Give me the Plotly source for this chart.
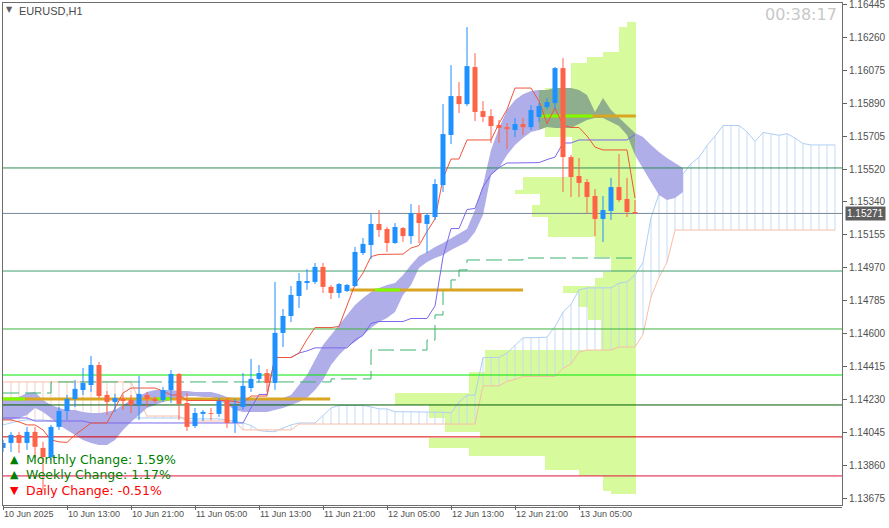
import plotly.graph_objects as go

# ---------------- data ----------------
symbol = "EURUSD,H1"
timer_text = "00:38:17"

# H1 candles, first bar = 10 Jun 2025 05:00
opens = [1.13956, 1.13984, 1.14029, 1.13984, 1.14046, 1.13956, 1.13905, 1.14074, 1.14163, 1.14231,
         1.14281, 1.14309, 1.14421, 1.14253, 1.14214, 1.14231, 1.14225, 1.14197, 1.14253, 1.14231,
         1.14225, 1.14281, 1.14371, 1.14208, 1.14079, 1.14147, 1.14152, 1.14147, 1.14225, 1.14096,
         1.14186, 1.14292, 1.14343, 1.14376, 1.14320, 1.14601, 1.14696, 1.14808, 1.14881, 1.14887,
         1.14971, 1.14859, 1.14825, 1.14836, 1.14864, 1.15049, 1.15094, 1.15212, 1.15184, 1.15105,
         1.15189, 1.15144, 1.15273, 1.15212, 1.15251, 1.15430, 1.15711, 1.15929, 1.15884, 1.16092,
         1.15845, 1.15817, 1.15767, 1.15755, 1.15739, 1.15772, 1.15755, 1.15812, 1.15868, 1.15890,
         1.16086, 1.15587, 1.15481, 1.15447, 1.15369, 1.15240, 1.15285, 1.15419, 1.15352, 1.15279]
highs = [1.14001, 1.14046, 1.14046, 1.14074, 1.14074, 1.13990, 1.14085, 1.14186, 1.14253, 1.14337,
         1.14404, 1.14472, 1.14438, 1.14275, 1.14259, 1.14253, 1.14253, 1.14360, 1.14270, 1.14242,
         1.14298, 1.14393, 1.14376, 1.14264, 1.14180, 1.14169, 1.14180, 1.14236, 1.14236, 1.14231,
         1.14376, 1.14455, 1.14421, 1.14399, 1.14887, 1.14735, 1.14864, 1.14937, 1.14959, 1.14993,
         1.14993, 1.14870, 1.14881, 1.14875, 1.15083, 1.15133, 1.15268, 1.15290, 1.15195, 1.15217,
         1.15195, 1.15324, 1.15318, 1.15273, 1.15464, 1.15884, 1.16103, 1.16008, 1.16316, 1.16170,
         1.15901, 1.15856, 1.15795, 1.15778, 1.15806, 1.15806, 1.15879, 1.15890, 1.15918, 1.16092,
         1.16142, 1.15599, 1.15582, 1.15464, 1.15408, 1.15369, 1.15470, 1.15604, 1.15470, 1.15346]
lows = [1.13933, 1.13933, 1.13928, 1.13945, 1.13900, 1.13720, 1.13889, 1.14057, 1.14113, 1.14186,
        1.14253, 1.14270, 1.14236, 1.14141, 1.14158, 1.14169, 1.14152, 1.14113, 1.14186, 1.14208,
        1.14214, 1.14208, 1.14113, 1.14051, 1.14068, 1.14107, 1.14113, 1.14130, 1.14068, 1.14040,
        1.14169, 1.14270, 1.14320, 1.14270, 1.14281, 1.14522, 1.14662, 1.14741, 1.14842, 1.14875,
        1.14825, 1.14791, 1.14797, 1.14830, 1.14859, 1.15038, 1.15015, 1.15139, 1.15055, 1.15100,
        1.15111, 1.15100, 1.15105, 1.15049, 1.15234, 1.15391, 1.15660, 1.15834, 1.15873, 1.15789,
        1.15783, 1.15666, 1.15666, 1.15632, 1.15699, 1.15711, 1.15739, 1.15783, 1.15856, 1.15856,
        1.15391, 1.15363, 1.15363, 1.15268, 1.15144, 1.15111, 1.15234, 1.15335, 1.15251, 1.15271]
closes = [1.13984, 1.14029, 1.13984, 1.14046, 1.13962, 1.13905, 1.14074, 1.14163, 1.14231, 1.14287,
          1.14320, 1.14421, 1.14247, 1.14214, 1.14236, 1.14219, 1.14197, 1.14259, 1.14231, 1.14219,
          1.14281, 1.14371, 1.14203, 1.14074, 1.14152, 1.14158, 1.14147, 1.14219, 1.14096, 1.14191,
          1.14304, 1.14343, 1.14376, 1.14320, 1.14601, 1.14696, 1.14814, 1.14892, 1.14892, 1.14971,
          1.14859, 1.14825, 1.14875, 1.14870, 1.15055, 1.15100, 1.15212, 1.15178, 1.15105, 1.15195,
          1.15144, 1.15273, 1.15217, 1.15262, 1.15436, 1.15716, 1.15929, 1.15884, 1.16097, 1.15840,
          1.15812, 1.15761, 1.15750, 1.15744, 1.15772, 1.15755, 1.15851, 1.15873, 1.15896, 1.16086,
          1.15587, 1.15475, 1.15442, 1.15363, 1.15240, 1.15290, 1.15419, 1.15346, 1.15279, 1.15271]

tenkan = [1.14113, 1.14113, 1.14102, 1.14085, 1.14085, 1.14057, 1.14001, 1.13990, 1.13987, 1.14029,
          1.14062, 1.14096, 1.14096, 1.14096, 1.14180, 1.14264, 1.14292, 1.14292, 1.14292, 1.14292,
          1.14275, 1.14253, 1.14253, 1.14222, 1.14222, 1.14222, 1.14222, 1.14222, 1.14222, 1.14216,
          1.14208, 1.14247, 1.14247, 1.14247, 1.14463, 1.14463, 1.14463, 1.14488, 1.14564, 1.14631,
          1.14631, 1.14631, 1.14637, 1.14758, 1.14872, 1.14937, 1.15029, 1.15041, 1.15041, 1.15041,
          1.15043, 1.15077, 1.15091, 1.15170, 1.15240, 1.15467, 1.15576, 1.15576, 1.15683, 1.15683,
          1.15683, 1.15683, 1.15775, 1.15854, 1.15974, 1.15974, 1.15974, 1.15901, 1.15775, 1.15862,
          1.15767, 1.15753, 1.15753, 1.15705, 1.15643, 1.15627, 1.15627, 1.15627, 1.15627, 1.15357]
kijun = [1.14124, 1.14124, 1.14124, 1.14124, 1.14107, 1.14107, 1.14107, 1.14107, 1.14107, 1.14107,
         1.14107, 1.14096, 1.14096, 1.14096, 1.14096, 1.14096, 1.14096, 1.14096, 1.14096, 1.14096,
         1.14096, 1.14096, 1.14096, 1.14096, 1.14096, 1.14096, 1.14096, 1.14096, 1.14096, 1.14096,
         1.14096, 1.14180, 1.14256, 1.14256, 1.14463, 1.14463, 1.14463, 1.14488, 1.14500, 1.14517,
         1.14517, 1.14517, 1.14517, 1.14517, 1.14561, 1.14587, 1.14654, 1.14665, 1.14665, 1.14665,
         1.14665, 1.14682, 1.14682, 1.14682, 1.14752, 1.15027, 1.15186, 1.15186, 1.15293, 1.15299,
         1.15419, 1.15489, 1.15528, 1.15554, 1.15554, 1.15554, 1.15554, 1.15556, 1.15573, 1.15587,
         1.15666, 1.15666, 1.15683, 1.15683, 1.15683, 1.15683, 1.15683, 1.15683, 1.15683, 1.15713]

# Senkou spans (already displaced 26 bars forward, indices 0..104)
senkou_a = [1.14085, 1.14096, 1.14107, 1.14113, 1.14113, 1.14113, 1.14107, 1.14102, 1.14102, 1.14102,
            1.14107, 1.14113, 1.14119, 1.14124, 1.14124, 1.14124, 1.14124, 1.14124, 1.14124, 1.14124,
            1.14124, 1.14124, 1.14124, 1.14124, 1.14119, 1.14119, 1.14119, 1.14119, 1.14113, 1.14104,
            1.14096, 1.14082, 1.14054, 1.14048, 1.14047, 1.14068, 1.14085, 1.14096, 1.14096, 1.14096,
            1.14138, 1.14180, 1.14194, 1.14194, 1.14194, 1.14194, 1.14186, 1.14175, 1.14175, 1.14159,
            1.14159, 1.14159, 1.14159, 1.14159, 1.14159, 1.14156, 1.14152, 1.14214, 1.14252, 1.14252,
            1.14463, 1.14463, 1.14463, 1.14488, 1.14532, 1.14574, 1.14574, 1.14574, 1.14577, 1.14637,
            1.14717, 1.14762, 1.14842, 1.14853, 1.14853, 1.14853, 1.14854, 1.14880, 1.14887, 1.14926,
            1.14996, 1.15247, 1.15381, 1.15381, 1.15488, 1.15491, 1.15551, 1.15586, 1.15652, 1.15704,
            1.15764, 1.15764, 1.15764, 1.15729, 1.15674, 1.15725, 1.15716, 1.15709, 1.15718, 1.15694,
            1.15663, 1.15655, 1.15655, 1.15655, 1.15655]
senkou_b = [1.14326, 1.14326, 1.14326, 1.14326, 1.14326, 1.14326, 1.14326, 1.14326, 1.14326, 1.14326,
            1.14326, 1.14326, 1.14326, 1.14326, 1.14326, 1.14326, 1.14326, 1.14225, 1.14135, 1.14135,
            1.14135, 1.14135, 1.14135, 1.14107, 1.14107, 1.14107, 1.14107, 1.14107, 1.14107, 1.14107,
            1.14057, 1.14057, 1.14057, 1.14057, 1.14057, 1.14057, 1.14057, 1.14090, 1.14090, 1.14090,
            1.14090, 1.14090, 1.14090, 1.14090, 1.14090, 1.14090, 1.14090, 1.14090, 1.14090, 1.14090,
            1.14090, 1.14090, 1.14090, 1.14090, 1.14090, 1.14090, 1.14090, 1.14090, 1.14090, 1.14090,
            1.14304, 1.14304, 1.14304, 1.14329, 1.14340, 1.14357, 1.14357, 1.14357, 1.14357, 1.14357,
            1.14402, 1.14427, 1.14494, 1.14505, 1.14505, 1.14505, 1.14505, 1.14522, 1.14522, 1.14522,
            1.14592, 1.14802, 1.14912, 1.14996, 1.15178, 1.15178, 1.15178, 1.15178, 1.15178, 1.15178,
            1.15178, 1.15178, 1.15178, 1.15178, 1.15178, 1.15178, 1.15178, 1.15178, 1.15178, 1.15178,
            1.15178, 1.15178, 1.15178, 1.15178, 1.15178]

# filled (lavender) band, indices 0..85
band_top = [1.14236, 1.14236, 1.14242, 1.14264, 1.14270, 1.14225, 1.14197, 1.14180, 1.14169, 1.14169,
            1.14158, 1.14152, 1.14152, 1.14158, 1.14169, 1.14197, 1.14225, 1.14247, 1.14270, 1.14281,
            1.14281, 1.14281, 1.14275, 1.14275, 1.14270, 1.14270, 1.14270, 1.14259, 1.14242, 1.14236,
            1.14231, 1.14231, 1.14225, 1.14225, 1.14225, 1.14236, 1.14253, 1.14309, 1.14365, 1.14449,
            1.14533, 1.14589, 1.14645, 1.14702, 1.14758, 1.14797, 1.14830, 1.14853, 1.14870, 1.14881,
            1.14926, 1.14982, 1.15032, 1.15055, 1.15083, 1.15105, 1.15133, 1.15161, 1.15184, 1.15290,
            1.15430, 1.15627, 1.15750, 1.15851, 1.15907, 1.15940, 1.15957, 1.15963, 1.15963, 1.15974,
            1.15974, 1.15974, 1.15963, 1.15935, 1.15840, 1.15918, 1.15851, 1.15806, 1.15767, 1.15722,
            1.15699, 1.15655, 1.15615, 1.15582, 1.15554, 1.15526]
band_bottom = [1.14113, 1.14113, 1.14124, 1.14141, 1.14180, 1.14158, 1.14124, 1.14085, 1.14057, 1.14029,
               1.14001, 1.13984, 1.13973, 1.13973, 1.14001, 1.14057, 1.14102, 1.14141, 1.14180, 1.14197,
               1.14214, 1.14225, 1.14236, 1.14247, 1.14247, 1.14242, 1.14242, 1.14225, 1.14197, 1.14169,
               1.14158, 1.14158, 1.14158, 1.14158, 1.14169, 1.14180, 1.14197, 1.14214, 1.14236, 1.14281,
               1.14337, 1.14421, 1.14477, 1.14522, 1.14550, 1.14589, 1.14629, 1.14662, 1.14685, 1.14718,
               1.14814, 1.14870, 1.14965, 1.14999, 1.15021, 1.15038, 1.15066, 1.15088, 1.15111, 1.15167,
               1.15262, 1.15486, 1.15526, 1.15599, 1.15655, 1.15694, 1.15727, 1.15739, 1.15755, 1.15750,
               1.15750, 1.15750, 1.15772, 1.15795, 1.15806, 1.15806, 1.15783, 1.15761, 1.15711, 1.15599,
               1.15526, 1.15447, 1.15374, 1.15346, 1.15357, 1.15391]

signal_dashed = [1.14264, 1.14264, 1.14264, 1.14264, 1.14264, 1.14264, 1.14326, 1.14326, 1.14326, 1.14326,
                 1.14326, 1.14326, 1.14326, 1.14326, 1.14326, 1.14326, 1.14326, 1.14326, 1.14326, 1.14326,
                 1.14326, 1.14326, 1.14326, 1.14326, 1.14326, 1.14326, 1.14326, 1.14326, 1.14326, 1.14326,
                 1.14326, 1.14326, 1.14326, 1.14326, 1.14326, 1.14326, 1.14326, 1.14326, 1.14326, 1.14326,
                 1.14326, 1.14343, 1.14343, 1.14343, 1.14343, 1.14343, 1.14505, 1.14505, 1.14505, 1.14505,
                 1.14505, 1.14505, 1.14505, 1.14561, 1.14702, 1.14842, 1.14898, 1.14954, 1.15010, 1.15010,
                 1.15010, 1.15010, 1.15010, 1.15010, 1.15010, 1.15021, 1.15021, 1.15021, 1.15021, 1.15021,
                 1.15021, 1.15021, 1.15021, 1.15021, 1.15021, 1.15021, 1.15021, 1.15021, 1.15021, 1.15021]

# volume profile bins (price top, price bottom, relative volume)
vp_top = [1.16344, 1.16316, 1.16176, 1.16148, 1.16114, 1.15974, 1.15699, 1.15475, 1.15402, 1.15380,
          1.15318, 1.15251, 1.15139, 1.15027, 1.14943, 1.14909, 1.14864, 1.14825, 1.14746, 1.14674,
          1.14505, 1.14382, 1.14264, 1.14197, 1.14124, 1.14046, 1.14012, 1.13956, 1.13911, 1.13833,
          1.13799, 1.13715]
vp_bottom = [1.16316, 1.16176, 1.16148, 1.16114, 1.15974, 1.15699, 1.15475, 1.15402, 1.15380, 1.15318,
             1.15251, 1.15139, 1.15027, 1.14943, 1.14909, 1.14864, 1.14825, 1.14746, 1.14674, 1.14505,
             1.14382, 1.14264, 1.14197, 1.14124, 1.14046, 1.14012, 1.13956, 1.13911, 1.13833, 1.13799,
             1.13715, 1.13698]
vp_volume = [1.1, 2.1, 4.1, 6.1, 8.1, 11.4, 8.0, 14.1, 15.1, 12.0,
             13.0, 11.0, 5.1, 3.1, 4.1, 5.1, 9.1, 7.2, 6.0, 4.3,
             18.9, 20.8, 30.1, 25.8, 23.9, 19.5, 25.8, 20.8, 11.4, 7.1,
             4.1, 3.1]

# session POC lines (price, from bar, to bar) and highlighted parts
poc_prices = [1.14231, 1.14842, 1.15817]
poc_from = [0.0, 43.4, 67.1]
poc_to = [40.9, 65.0, 79.1]
poc_hi_prices = [1.14231, 1.14231, 1.14842, 1.15817]
poc_hi_from = [0.0, 19.2, 46.5, 67.1]
poc_hi_to = [2.75, 20.9, 49.6, 73.7]

# horizontal levels
level_prices = [1.15526, 1.14948, 1.14623, 1.14365, 1.14197, 1.14018, 1.13799]
last_price = 1.15271

x_tick_labels = ["10 Jun 2025", "10 Jun 13:00", "10 Jun 21:00", "11 Jun 05:00", "11 Jun 13:00",
                 "11 Jun 21:00", "12 Jun 05:00", "12 Jun 13:00", "12 Jun 21:00", "13 Jun 05:00"]
x_tick_bars = [0, 8, 16, 24, 32, 40, 48, 56, 64, 72]
y_tick_labels = ["1.16445", "1.16260", "1.16075", "1.15890", "1.15705", "1.15520", "1.15340", "1.15155",
                 "1.14970", "1.14785", "1.14600", "1.14415", "1.14230", "1.14045", "1.13860", "1.13675"]

change_names = ["Monthly Change", "Weekly Change", "Daily Change"]
change_values = [1.59, 1.17, -0.51]

# ---------------- styles ----------------
BULL = "#1E90FF"
BEAR = "#FF6347"
level_colors = ["#2E8B57", "#3C9F6E", "#3CB43C", "#00E600", "#005A00", "#DC0000", "#E0103C"]
PLOT_W, PLOT_H, L, T = 839, 502, 3, 3


def px(x):
    return (x - L) / PLOT_W


def py(y):
    return (T + PLOT_H - y) / PLOT_H


fig = go.Figure()
n = len(opens)
idx = list(range(n))
X_END = 200

# volume profile (horizontal bars growing left from the last bar)
anchor = n - 1 + 0.1
fig.add_trace(go.Bar(
    orientation="h",
    y=[(t + b) / 2 for t, b in zip(vp_top, vp_bottom)],
    x=[-v for v in vp_volume],
    base=anchor,
    width=[t - b for t, b in zip(vp_top, vp_bottom)],
    marker=dict(color="#D7FA9C", line=dict(width=0)),
    hoverinfo="skip", showlegend=False))

# Ichimoku hatched cloud
hx_up, hy_up, hx_dn, hy_dn = [], [], [], []
for i, (a, b) in enumerate(zip(senkou_a, senkou_b)):
    if a >= b:
        hx_up += [i, i, None]
        hy_up += [a, b, None]
    else:
        hx_dn += [i, i, None]
        hy_dn += [a, b, None]
fig.add_trace(go.Scatter(x=hx_up, y=hy_up, mode="lines", line=dict(color="#C4DCF6", width=1),
                         hoverinfo="skip", showlegend=False))
fig.add_trace(go.Scatter(x=hx_dn, y=hy_dn, mode="lines", line=dict(color="#F3CFC3", width=1),
                         hoverinfo="skip", showlegend=False))
fig.add_trace(go.Scatter(x=list(range(len(senkou_a))), y=senkou_a, mode="lines",
                         line=dict(color="#AFCFF2", width=1), hoverinfo="skip", showlegend=False))
fig.add_trace(go.Scatter(x=list(range(len(senkou_b))), y=senkou_b, mode="lines",
                         line=dict(color="#F8BEA8", width=1), hoverinfo="skip", showlegend=False))

# lavender band, split where it overlaps the volume profile
segments = [(0, 67, "#AFAEE8"), (67, 79, "#8FAE8E"), (79, len(band_top) - 1, "#AFAEE8")]
for s, e, col in segments:
    xs = list(range(s, e + 1))
    fig.add_trace(go.Scatter(
        x=xs + xs[::-1], y=band_top[s:e + 1] + band_bottom[s:e + 1][::-1],
        mode="lines", fill="toself", fillcolor=col, line=dict(width=0, color=col),
        hoverinfo="skip", showlegend=False))

# horizontal levels
for p, c in zip(level_prices, level_colors):
    fig.add_trace(go.Scatter(x=[-5, X_END], y=[p, p], mode="lines", line=dict(color=c, width=1),
                             hoverinfo="skip", showlegend=False))
fig.add_trace(go.Scatter(x=[-5, X_END], y=[last_price, last_price], mode="lines",
                         line=dict(color="#778899", width=1), hoverinfo="skip", showlegend=False))

# dashed signal line
fig.add_trace(go.Scatter(x=idx, y=signal_dashed, mode="lines", line_shape="hv",
                         line=dict(color="#3CB371", width=1, dash="16px,6px"),
                         hoverinfo="skip", showlegend=False))

# POC lines
for p, a, b in zip(poc_prices, poc_from, poc_to):
    fig.add_trace(go.Scatter(x=[a, b], y=[p, p], mode="lines", line=dict(color="#DAA520", width=3),
                             hoverinfo="skip", showlegend=False))
for p, a, b in zip(poc_hi_prices, poc_hi_from, poc_hi_to):
    fig.add_trace(go.Scatter(x=[a, b], y=[p, p], mode="lines", line=dict(color="#7CFC00", width=3),
                             hoverinfo="skip", showlegend=False))

# Kijun / Tenkan
fig.add_trace(go.Scatter(x=idx, y=kijun, mode="lines", line=dict(color="#7B68EE", width=1),
                         hoverinfo="skip", showlegend=False))
fig.add_trace(go.Scatter(x=idx, y=tenkan, mode="lines", line=dict(color="#F0553C", width=1),
                         hoverinfo="skip", showlegend=False))

# candles
for bull, col in ((True, BULL), (False, BEAR)):
    wx, wy, bx, by = [], [], [], []
    for i in idx:
        if (closes[i] >= opens[i]) == bull:
            wx += [i, i, None]
            wy += [lows[i], highs[i], None]
            bx += [i, i, None]
            by += [opens[i], closes[i], None]
    fig.add_trace(go.Scatter(x=wx, y=wy, mode="lines", line=dict(color=col, width=1),
                             hoverinfo="skip", showlegend=False))
    fig.add_trace(go.Scatter(x=bx, y=by, mode="lines", line=dict(color=col, width=5),
                             hoverinfo="skip", showlegend=False))

# ---------------- layout ----------------
ann = []
ann.append(dict(x=px(9), y=py(10), xref="paper", yref="paper", text="▼", showarrow=False,
                font=dict(family="DejaVu Sans", size=8, color="#606060"), xanchor="center", yanchor="middle"))
ann.append(dict(x=px(17), y=py(11), xref="paper", yref="paper", text=symbol, showarrow=False,
                font=dict(family="Liberation Sans", size=11, color="#4A4A4A"), xanchor="left", yanchor="middle"))
ann.append(dict(x=px(839), y=py(15), xref="paper", yref="paper", text=timer_text, showarrow=False,
                font=dict(family="DejaVu Sans", size=16, color="#C8C8C8"), xanchor="right", yanchor="middle"))
for j, (name, val) in enumerate(zip(change_names, change_values)):
    col = "#008000" if val >= 0 else "#FF0000"
    tri = "▲" if val >= 0 else "▼"
    yc = 459 + j * 15.5
    ann.append(dict(x=px(14), y=py(yc), xref="paper", yref="paper", text=tri, showarrow=False,
                    font=dict(family="DejaVu Sans", size=11, color=col), xanchor="center", yanchor="middle"))
    ann.append(dict(x=px(24), y=py(yc), xref="paper", yref="paper", text=f"{name}: {val:.2f}%",
                    showarrow=False, font=dict(family="DejaVu Sans", size=12.5, color=col),
                    xanchor="left", yanchor="middle"))
ann.append(dict(x=px(845), y=last_price, xref="paper", yref="y", text=f"{last_price:.5f}", showarrow=False,
                font=dict(family="Liberation Sans", size=10, color="#FFFFFF"), bgcolor="#5E5E5E",
                borderpad=1, xanchor="left", yanchor="middle"))

fig.update_layout(
    width=889, height=528,
    margin=dict(l=L, r=889 - L - PLOT_W, t=T, b=528 - T - PLOT_H, autoexpand=False),
    paper_bgcolor="#FFFFFF", plot_bgcolor="#FFFFFF",
    showlegend=False, bargap=0,
    annotations=ann,
    xaxis=dict(range=[0, 104.875], tickvals=x_tick_bars, ticktext=x_tick_labels,
               ticks="outside", ticklen=4, tickcolor="#606060", ticklabelposition="outside right",
               ticklabeloverflow="allow",
               tickfont=dict(family="Liberation Sans", size=9, color="#505050"), automargin=False,
               showgrid=False, zeroline=False, showline=True, linecolor="#6E6E6E", mirror=True),
    yaxis=dict(side="right", range=[1.13636, 1.16451],
               tickvals=[float(t) for t in y_tick_labels], ticktext=y_tick_labels,
               ticks="outside", ticklen=4, tickcolor="#606060", automargin=False,
               ticklabeloverflow="allow",
               tickfont=dict(family="Liberation Sans", size=10, color="#505050"),
               showgrid=False, zeroline=False, showline=True, linecolor="#6E6E6E", mirror=True),
    shapes=[dict(type="line", xref="paper", yref="paper", x0=0, x1=1, y0=-2.5 / PLOT_H, y1=-2.5 / PLOT_H,
                 line=dict(color="#6E6E6E", width=1))],
)

fig.write_html("out.html", config={"displayModeBar": False},
               post_script="document.body.style.margin='0px';document.body.style.overflow='hidden';")
